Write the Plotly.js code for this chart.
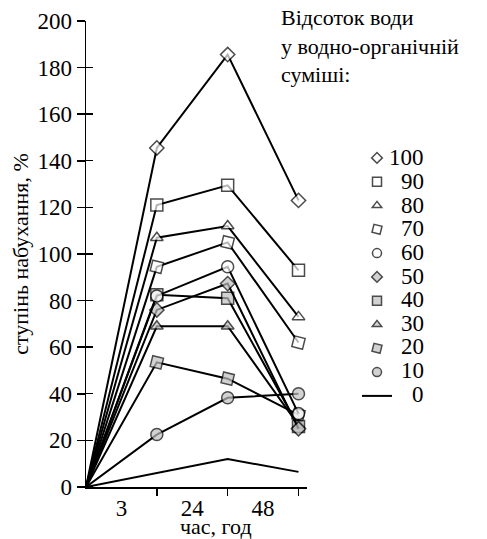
<!DOCTYPE html>
<html><head><meta charset="utf-8">
<script src="https://cdn.plot.ly/plotly-3.0.1.min.js"></script>
<style>
html,body{margin:0;padding:0;background:#fff}
#chart{width:487px;height:539px}
</style>
</head><body><div id="chart"></div>
<script>
// ---- data ----
const xPos = [0, 1, 2, 3];
const timeTicks = [1, 2, 3];
const timeLabelPos = [0.5, 1.5, 2.5];
const timeLabels = ['3', '24', '48'];
const yTicks = [0, 20, 40, 60, 80, 100, 120, 140, 160, 180, 200];
const seriesNames = ['100', '90', '80', '70', '60', '50', '40', '30', '20', '10', '0'];
const s100 = [0, 145.5, 185.6, 123];
const s90  = [0, 121, 129.5, 93];
const s80  = [0, 107, 112, 73];
const s70  = [0, 94.5, 105, 62];
const s60  = [0, 82, 94.5, 31.5];
const s50  = [0, 76, 87.3, 25];
const s40  = [0, 82.5, 81, 26];
const s30  = [0, 69, 69, 26.5];
const s20  = [0, 53.5, 46.5, 31];
const s10  = [0, 22.5, 38.3, 40];
const s0   = [0, 6, 12, 6.5];
const seriesValues = [s100, s90, s80, s70, s60, s50, s40, s30, s20, s10, s0];

// ---- styles ----
const GREY = '#bfbfbf';
const FONT = 'Liberation Serif';
const styles = [
  {symbol: 'diamond', fill: '#fff', size: 11},
  {symbol: 'square', fill: '#fff', size: 12},
  {symbol: 'triangle-up', fill: '#fff', size: 11},
  {symbol: 'square', fill: '#fff', size: 11, angle: 14},
  {symbol: 'circle', fill: '#fff', size: 12},
  {symbol: 'diamond', fill: GREY, size: 11},
  {symbol: 'square', fill: GREY, size: 12},
  {symbol: 'triangle-up', fill: GREY, size: 11},
  {symbol: 'square', fill: GREY, size: 11, angle: 14},
  {symbol: 'circle', fill: GREY, size: 12},
  null
];

const traces = [];
for (let i = seriesNames.length - 1; i >= 0; i--) {
  const st = styles[i];
  traces.push({
    type: 'scatter', mode: 'lines',
    x: xPos, y: seriesValues[i],
    name: ' ', legendgroup: 'g' + i,
    showlegend: !st,
    line: {color: '#000', width: 2},
    cliponaxis: false, hoverinfo: 'skip'
  });
  if (st) {
    traces.push({
      type: 'scatter', mode: 'markers',
      x: xPos, y: seriesValues[i],
      name: ' ', legendgroup: 'g' + i,
      marker: {
        symbol: st.symbol,
        color: st.fill,
        size: xPos.map((v, k) => k === 0 ? 0 : st.size),
        angle: st.angle || 0,
        line: {color: '#000', width: 1.5}
      },
      cliponaxis: false, hoverinfo: 'skip'
    });
  }
}

const PX = v => (v - 86) / 221;
const PY = v => (487 - v) / 466;
const legendLabels = seriesNames.map((n, i) => ({
  xref: 'paper', yref: 'paper', x: PX(426), y: PY(158 + 23.6 * i),
  xanchor: 'right', yanchor: 'middle', showarrow: false,
  text: n, font: {family: FONT, size: 23}
}));

const layout = {
  width: 487, height: 539,
  margin: {l: 86, r: 180, t: 21, b: 52, pad: 0},
  paper_bgcolor: '#fff', plot_bgcolor: '#fff',
  font: {family: FONT, color: '#000', size: 22},
  showlegend: true,
  legend: {
    x: PX(357), xanchor: 'left',
    y: PY(141), yanchor: 'top',
    traceorder: 'reversed',
    font: {family: FONT, size: 16},
    bgcolor: 'rgba(0,0,0,0)', borderwidth: 0
  },
  xaxis: {
    range: [0, 3.12], showgrid: false, zeroline: false,
    showline: true, linecolor: '#000', linewidth: 1.5,
    ticks: '', tickvals: timeLabelPos, ticktext: timeLabels,
    tickfont: {family: FONT, size: 23},
    minor: {tickvals: timeTicks, ticks: 'outside', ticklen: 7, tickwidth: 1.5,
            tickcolor: '#000', showgrid: false}
  },
  yaxis: {
    range: [0, 200], showgrid: false, zeroline: false,
    showline: true, linecolor: '#000', linewidth: 1.5,
    ticks: 'outside', ticklen: 8, tickwidth: 1.5, tickcolor: '#000',
    tickvals: yTicks, tickfont: {family: FONT, size: 23},
    minor: {tickvals: yTicks.map(v => v + 0.05), ticks: 'inside', ticklen: 7,
            tickwidth: 1.5, tickcolor: '#000', showgrid: false},
    title: {text: 'ступінь набухання, %', font: {family: FONT, size: 22}, standoff: 2}
  },
  annotations: [
    {xref: 'paper', yref: 'paper', x: PX(279), y: PY(3),
     xanchor: 'left', yanchor: 'top', align: 'left', showarrow: false,
     text: 'Відсоток води<br>у водно-органічній<br>суміші:', font: {family: FONT, size: 22}},
    {xref: 'paper', yref: 'paper', x: PX(216), y: PY(526),
     xanchor: 'center', yanchor: 'middle', showarrow: false,
     text: 'час, год', font: {family: FONT, size: 22}}
  ].concat(legendLabels)
};

Plotly.newPlot('chart', traces, layout, {staticPlot: true});
</script>
</body></html>
